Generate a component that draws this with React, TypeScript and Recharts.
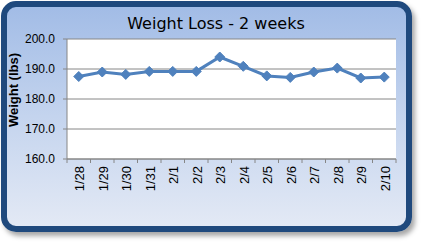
import React from "react";
import { LineChart, Line, XAxis, YAxis, CartesianGrid } from "recharts";

const dates = ["1/28", "1/29", "1/30", "1/31", "2/1", "2/2", "2/3", "2/4", "2/5", "2/6", "2/7", "2/8", "2/9", "2/10"];
const weights = [187.5, 189.0, 188.2, 189.2, 189.2, 189.2, 194.0, 190.9, 187.7, 187.2, 189.0, 190.3, 187.0, 187.3];
const yTicks = [160, 170, 180, 190, 200];

const data = dates.map((d, i) => ({ pos: i + 0.5, date: d, weight: weights[i] }));
const xTicks: number[] = [];
for (let i = 0; i <= dates.length * 2; i++) xTicks.push(i / 2);

const AXIS = "#868686";
const LINE = "#4F81BD";

const XTick = (props: any) => {
  const { x, y, payload } = props;
  const v = payload.value as number;
  if (Number.isInteger(v)) {
    return <line x1={x} y1={y} x2={x} y2={y + 4} stroke={AXIS} strokeWidth={1} />;
  }
  const label = dates[Math.floor(v)];
  return (
    <text
      x={x + 1}
      y={y + 7}
      transform={`rotate(-90, ${x + 1}, ${y + 7})`}
      textAnchor="end"
      dominantBaseline="central"
      fontSize={13}
      fontFamily="Liberation Sans, Arial, sans-serif"
      fill="#000"
    >
      {label}
    </text>
  );
};

const Diamond = (props: any) => {
  const { cx, cy, index } = props;
  if (cx == null || cy == null) return <g key={index} />;
  const r = 5;
  return (
    <polygon
      key={index}
      points={`${cx},${cy - r} ${cx + r},${cy} ${cx},${cy + r} ${cx - r},${cy}`}
      fill={LINE}
      stroke={LINE}
      strokeWidth={1}
    />
  );
};

export default function App() {
  return (
    <div style={{ position: "absolute", left: 0, top: 0, width: 425, height: 243, overflow: "hidden" }}>
      <div
        style={{
          position: "absolute",
          left: 1,
          top: 1,
          width: 399,
          height: 219,
          border: "6px solid #1F497D",
          borderRadius: 15,
          background: "linear-gradient(to bottom, #A2BCE6 0%, #C4D4EE 50%, #E3E9F5 100%)",
          boxShadow: "3px 4px 5px rgba(0,0,0,0.35)",
        }}
      />
      <div
        style={{
          position: "absolute",
          left: 0,
          top: 14,
          width: 432,
          textAlign: "center",
          fontFamily: "DejaVu Sans, sans-serif",
          fontSize: 16,
          lineHeight: "20px",
          color: "#000",
        }}
      >
        Weight Loss - 2 weeks
      </div>
      <div
        style={{
          position: "absolute",
          left: 14 - 60,
          top: 90 - 9,
          width: 120,
          height: 18,
          lineHeight: "18px",
          textAlign: "center",
          transform: "rotate(-90deg)",
          fontFamily: "Liberation Sans, Arial, sans-serif",
          fontWeight: "bold",
          fontSize: 13,
          color: "#000",
        }}
      >
        Weight (lbs)
      </div>
      <div style={{ position: "absolute", left: 0, top: 0 }}>
        <LineChart width={425} height={243} data={data} margin={{ top: 39, right: 29, left: 8, bottom: 44 }}>
          <CartesianGrid vertical={false} stroke={AXIS} fill="#FFFFFF" strokeOpacity={1} />
          <XAxis
            dataKey="pos"
            type="number"
            domain={[0, dates.length]}
            ticks={xTicks}
            interval={0}
            height={40}
            tickLine={false}
            tickSize={0}
            tickMargin={0}
            axisLine={{ stroke: AXIS }}
            tick={<XTick />}
          />
          <YAxis
            type="number"
            domain={[160, 200]}
            ticks={yTicks}
            interval={0}
            width={59}
            tickSize={4}
            tickMargin={8}
            tickLine={{ stroke: AXIS }}
            axisLine={{ stroke: AXIS }}
            tickFormatter={(v: number) => v.toFixed(1)}
            tick={{ fill: "#000", fontSize: 12, fontFamily: "Liberation Sans, Arial, sans-serif" }}
          />
          <Line
            dataKey="weight"
            stroke={LINE}
            strokeWidth={3}
            dot={Diamond}
            activeDot={false}
            isAnimationActive={false}
          />
        </LineChart>
      </div>
    </div>
  );
}
